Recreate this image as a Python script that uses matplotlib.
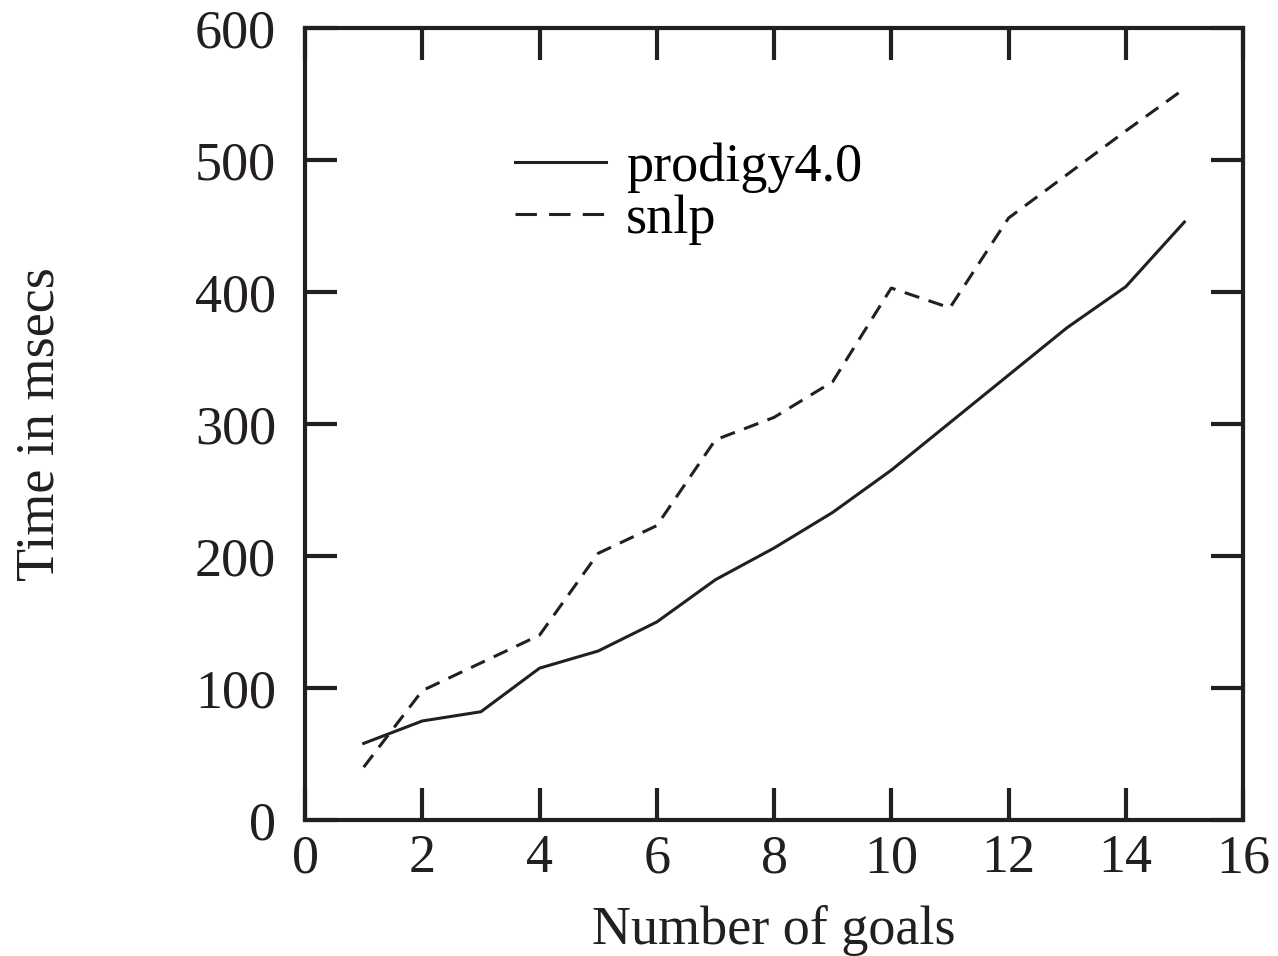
"""Planning time versus number of goals: prodigy4.0 against snlp."""
import matplotlib
matplotlib.use("Agg")
import matplotlib.pyplot as plt

goals = [1, 2, 3, 4, 5, 6, 7, 8, 9, 10, 11, 12, 13, 14, 15]
prodigy_ms = [58, 75, 82, 115, 128, 150, 182, 206, 233, 265, 301, 337, 373, 404, 453]
snlp_ms = [40, 98, 119, 140, 202, 223, 288, 305, 332, 403, 388, 456, 489, 522, 554]

x_ticks = [0, 2, 4, 6, 8, 10, 12, 14, 16]
y_ticks = [0, 100, 200, 300, 400, 500, 600]

plt.rcParams["font.family"] = ["Liberation Serif", "DejaVu Serif"]
FONT = 39
INK = "#231f20"

fig = plt.figure(figsize=(12.78, 9.56), dpi=100)
ax = fig.add_axes([0.2387, 0.1423, 0.7339, 0.8284])

ax.plot(goals, prodigy_ms, color=INK, linewidth=2.2, label="prodigy4.0")
ax.plot(goals, snlp_ms, color=INK, linewidth=2.2, linestyle=(0, (5.0, 3.2)), label="snlp")

ax.set_xlim(0, 16)
ax.set_ylim(0, 600)
ax.set_xticks(x_ticks)
ax.set_yticks(y_ticks)
ax.tick_params(direction="in", length=23, width=3, color=INK, labelsize=FONT,
               labelcolor=INK, top=True, right=True)
ax.tick_params(axis="x", pad=10)
ax.tick_params(axis="y", pad=21)
for spine in ax.spines.values():
    spine.set_linewidth(3)
    spine.set_color(INK)

ax.set_xlabel("Number of goals", fontsize=FONT, color=INK, labelpad=15)
ax.set_ylabel("Time in msecs", fontsize=FONT, color=INK, labelpad=93)

leg = ax.legend(loc="upper left", bbox_to_anchor=(0.172, 0.917), frameon=False,
                fontsize=FONT, handlelength=1.67, handletextpad=0.38, labelspacing=0.03)
# the legend sample of the dashed series uses three long dashes
leg.get_lines()[1].set_linestyle((0, (7.0, 4.0)))

fig.savefig("out.png", dpi=100)
